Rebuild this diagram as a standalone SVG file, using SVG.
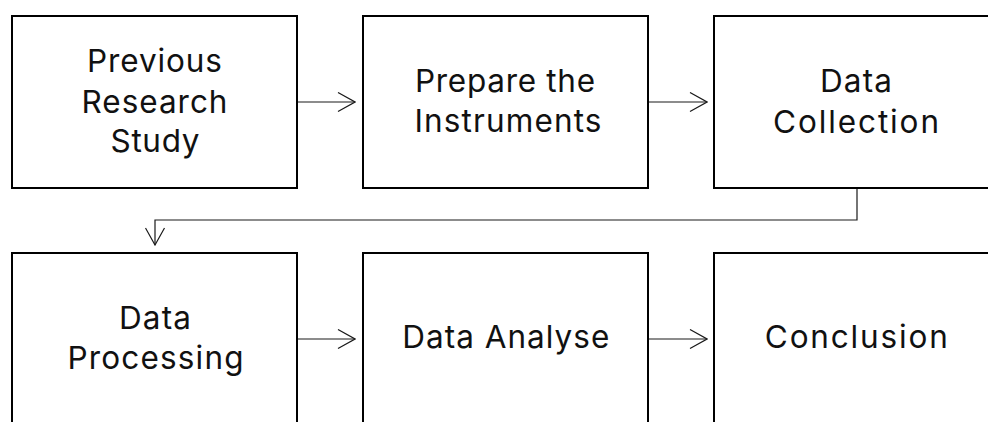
<svg xmlns="http://www.w3.org/2000/svg" width="988" height="422" viewBox="0 0 988 422">
<defs>
<style>
.box{fill:#ffffff;stroke:#000000;stroke-width:2}
.lbl{font-family:Inter,"Liberation Sans",Arial,sans-serif;font-size:31.5px;fill:#111111;text-anchor:middle}
.conn{fill:none;stroke:#1a1a1a;stroke-width:1.2}
</style>
<marker id="chev" markerUnits="userSpaceOnUse" viewBox="-1 -1 19 21" refX="17" refY="9.5" markerWidth="19" markerHeight="21" orient="auto">
<path d="M0,0 L17,9.5 L0,19" fill="none" stroke="#1a1a1a" stroke-width="1.2"/>
</marker>
</defs>
<rect width="988" height="422" fill="#ffffff"/>
<g id="connectors">
<line class="conn" x1="298" y1="102" x2="355" y2="102" marker-end="url(#chev)"/>
<line class="conn" x1="649" y1="102" x2="707" y2="102" marker-end="url(#chev)"/>
<polyline class="conn" points="857,189 857,220 155,220 155,245" marker-end="url(#chev)"/>
<line class="conn" x1="298" y1="339" x2="355" y2="339" marker-end="url(#chev)"/>
<line class="conn" x1="649" y1="339" x2="707" y2="339" marker-end="url(#chev)"/>
</g>
<g id="node1">
<rect class="box" x="12" y="16" width="285" height="172"/>
<text class="lbl" x="154.5" y="72" textLength="135" lengthAdjust="spacing">Previous</text>
<text class="lbl" x="154.5" y="112.5" textLength="146" lengthAdjust="spacing">Research</text>
<text class="lbl" x="155" y="152" textLength="89" lengthAdjust="spacing">Study</text>
</g>
<g id="node2">
<rect class="box" x="363" y="16" width="285" height="172"/>
<text class="lbl" x="505" y="92" textLength="180" lengthAdjust="spacing">Prepare the</text>
<text class="lbl" x="508" y="132" textLength="187" lengthAdjust="spacing">Instruments</text>
</g>
<g id="node3">
<rect class="box" x="714" y="16" width="285" height="172"/>
<text class="lbl" x="856" y="92" textLength="72" lengthAdjust="spacing">Data</text>
<text class="lbl" x="856" y="132.5" textLength="166" lengthAdjust="spacing">Collection</text>
</g>
<g id="node4">
<rect class="box" x="12" y="253" width="285" height="200"/>
<text class="lbl" x="155" y="328.5" textLength="72" lengthAdjust="spacing">Data</text>
<text class="lbl" x="155.5" y="368.5" textLength="176" lengthAdjust="spacing">Processing</text>
</g>
<g id="node5">
<rect class="box" x="363" y="253" width="285" height="200"/>
<text class="lbl" x="505.8" y="347.5" textLength="207" lengthAdjust="spacing">Data Analyse</text>
</g>
<g id="node6">
<rect class="box" x="714" y="253" width="285" height="200"/>
<text class="lbl" x="856.3" y="347.5" textLength="183" lengthAdjust="spacing">Conclusion</text>
</g>
</svg>
